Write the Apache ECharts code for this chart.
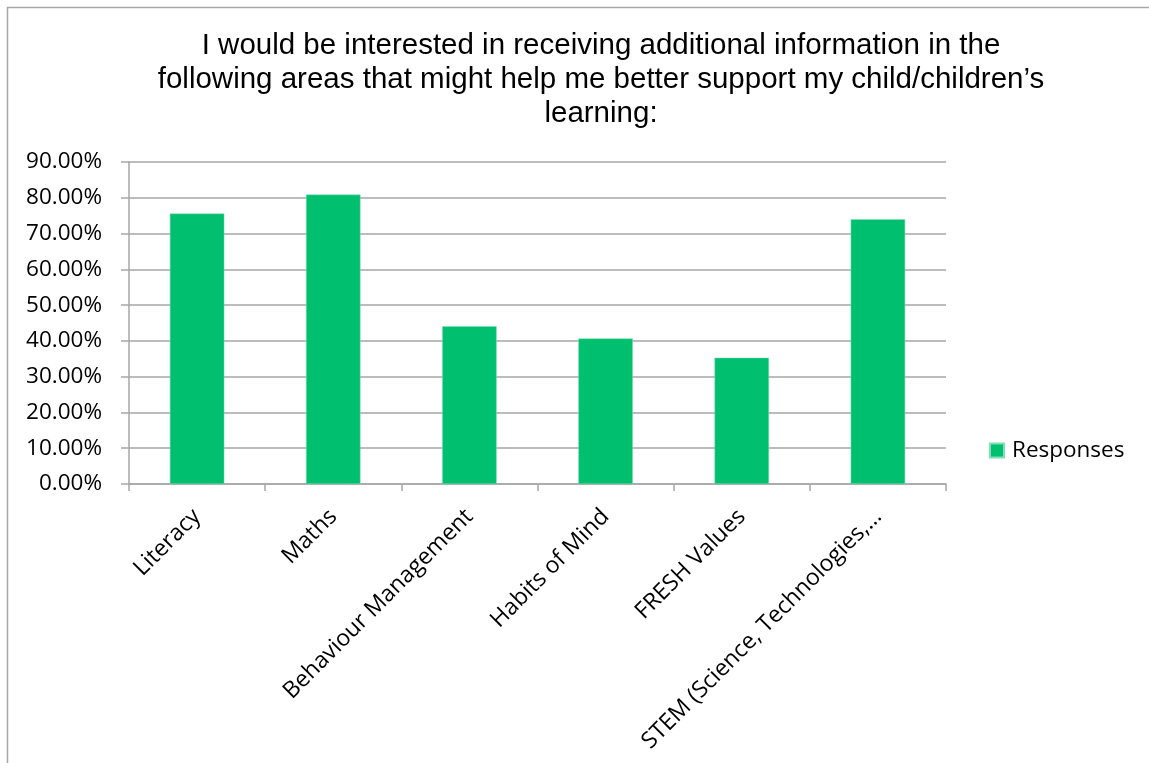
<!DOCTYPE html>
<html>
<head>
<meta charset="utf-8">
<script src="https://cdn.jsdelivr.net/npm/echarts@6/dist/echarts.min.js"></script>
<style>
  html, body { margin: 0; padding: 0; background: #fff; }
  #chart { width: 1149px; height: 763px; }
</style>
</head>
<body>
<div id="chart"></div>
<script>
// Survey: share of parents wanting more information per area
const categories = [
  'Literacy',
  'Maths',
  'Behaviour Management',
  'Habits of Mind',
  'FRESH Values',
  'STEM (Science, Technologies,\u2026'
];
const responses = [0.756, 0.809, 0.441, 0.407, 0.353, 0.740];
const seriesName = 'Responses';
const titleText = 'I would be interested in receiving additional information in the\nfollowing areas that might help me better support my child/children\u2019s\nlearning:';

const labelFont = '"Open Sans", sans-serif';
const gridColor = '#a6a6a6';

const chart = echarts.init(document.getElementById('chart'), null, { renderer: 'canvas' });

chart.setOption({
  backgroundColor: '#ffffff',
  animation: false,
  title: {
    text: titleText,
    left: 596,
    top: 24,
    textAlign: 'center',
    textStyle: {
      fontFamily: '"Liberation Sans", Arial, sans-serif',
      fontSize: 29.5,
      fontWeight: 'normal',
      color: '#000000',
      lineHeight: 34
    }
  },
  graphic: [{
    type: 'rect',
    shape: { x: 7.5, y: 7.5, width: 1300, height: 900 },
    style: { fill: 'none', stroke: '#a6a6a6', lineWidth: 1.5 },
    silent: true,
    z: -1
  }],
  legend: {
    data: [seriesName],
    left: 984,
    top: 434,
    icon: 'rect',
    itemWidth: 14,
    itemHeight: 14,
    textStyle: {
      fontFamily: labelFont,
      fontSize: 22.5,
      color: '#000000',
      padding: [0, 0, 0, 3]
    }
  },
  grid: {
    left: 129,
    top: 162,
    width: 817,
    height: 322,
    containLabel: false,
    outerBoundsMode: 'none'
  },
  xAxis: {
    type: 'category',
    data: categories,
    axisLine: { show: true, lineStyle: { color: gridColor, width: 1.5 } },
    axisTick: { show: true, alignWithLabel: false, length: 7, lineStyle: { color: gridColor, width: 1.5 } },
    axisLabel: {
      interval: 0,
      rotate: 45,
      margin: 29,
      fontFamily: labelFont,
      fontSize: 23,
      color: '#000000'
    },
    splitLine: { show: false }
  },
  yAxis: {
    type: 'value',
    min: 0,
    max: 0.9,
    interval: 0.1,
    axisLine: { show: true, lineStyle: { color: gridColor, width: 1.5 } },
    axisTick: { show: true, length: 8, lineStyle: { color: gridColor, width: 1.5 } },
    axisLabel: {
      margin: 27,
      fontFamily: labelFont,
      fontSize: 22.5,
      color: '#000000',
      formatter: v => (v * 100).toFixed(2) + '%'
    },
    splitLine: { show: true, lineStyle: { color: gridColor, width: 1.5 } }
  },
  series: [{
    name: seriesName,
    type: 'bar',
    data: responses,
    barWidth: '40%',
    itemStyle: { color: '#00bf6f', borderColor: '#7ee0b5', borderWidth: 0.5 }
  }]
});
</script>
</body>
</html>
